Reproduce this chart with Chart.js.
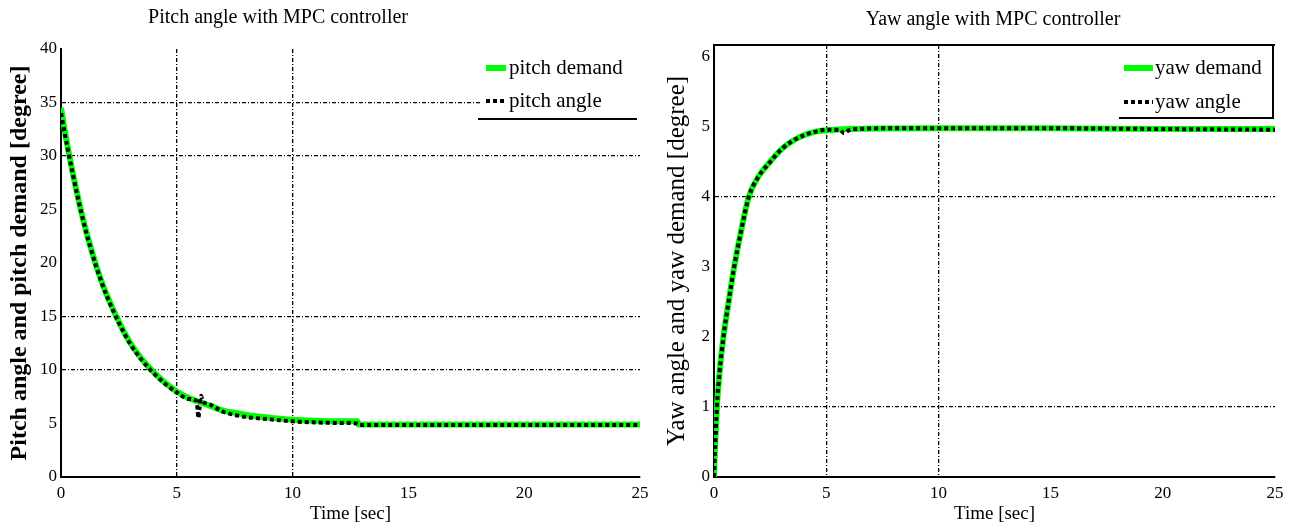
<!DOCTYPE html>
<html>
<head>
<meta charset="utf-8">
<script src="https://cdn.jsdelivr.net/npm/chart.js@4.4.1/dist/chart.umd.min.js"></script>
<style>
    html, body { margin:0; padding:0; background:#fff; }
    #wrap { position:relative; width:1292px; height:531px; overflow:hidden; }
    #pitch_box { position:absolute; left:0; top:0; width:660px; height:531px; }
    #yaw_box { position:absolute; left:660px; top:0; width:632px; height:531px; }
</style>
</head>
<body>
<div id="wrap">
    <div id="pitch_box"><canvas id="pitch_chart" width="660" height="531"></canvas></div>
    <div id="yaw_box"><canvas id="yaw_chart" width="632" height="531"></canvas></div>
</div>
<script>
// ---- data ----
let timeTicks = [0, 5, 10, 15, 20, 25];
let pitchTicks = [0, 5, 10, 15, 20, 25, 30, 35, 40];
let yawTicks = [0, 1, 2, 3, 4, 5, 6];
let pitchGridX = [5, 10];
let pitchGridY = [35, 30, 15, 10];
let yawGridX = [5, 10];
let yawGridY = [4, 1];

let pitchTime   = [0, 0.25, 0.5, 0.75, 1, 1.25, 1.5, 1.75, 2, 2.5, 3, 3.5, 4, 4.5, 5, 5.5, 6, 6.5, 7, 7.5, 8, 9, 10, 11, 12, 12.8, 12.85, 15, 20, 25];
let pitchDemand = [34.5, 31.3, 28.5, 26.0, 23.7, 21.7, 19.9, 18.3, 16.9, 14.5, 12.5, 11.0, 9.8, 8.8, 8.0, 7.4, 7.0, 6.6, 6.2, 6.0, 5.8, 5.55, 5.35, 5.25, 5.2, 5.2, 4.9, 4.9, 4.9, 4.9];

let pitchAngleTime = [0, 0.25, 0.5, 0.75, 1, 1.25, 1.5, 1.75, 2, 2.5, 3, 3.5, 4, 4.5, 5, 5.5, 5.85, 5.9, 5.93, 5.98, 6.05, 6.12, 6.4, 7, 7.5, 8, 9, 10, 11, 12, 12.8, 12.9, 15, 20, 25];
let pitchAngle     = [34.0, 31.1, 28.4, 25.9, 23.6, 21.6, 19.8, 18.2, 16.8, 14.4, 12.4, 10.9, 9.7, 8.7, 7.9, 7.3, 7.1, 6.2, 5.5, 6.4, 7.6, 7.1, 6.8, 6.1, 5.8, 5.6, 5.4, 5.2, 5.1, 5.05, 5.0, 4.85, 4.85, 4.85, 4.85];

let yawTime   = [0, 0.05, 0.13, 0.25, 0.42, 0.65, 0.9, 1.2, 1.55, 2, 2.5, 3, 3.5, 4, 4.5, 5, 6, 10, 15, 20, 25];
let yawDemand = [0, 0.45, 1.0, 1.5, 2.0, 2.5, 3.0, 3.5, 4.0, 4.3, 4.5, 4.68, 4.8, 4.88, 4.93, 4.95, 4.97, 4.98, 4.98, 4.97, 4.97];

let yawAngleTime = [0, 0.05, 0.13, 0.25, 0.42, 0.65, 0.9, 1.2, 1.55, 2, 2.5, 3, 3.5, 4, 4.5, 5, 5.6, 5.8, 6, 6.3, 8, 10, 15, 20, 25];
let yawAngle     = [0, 0.4, 1.0, 1.5, 2.0, 2.5, 3.0, 3.5, 4.0, 4.3, 4.5, 4.68, 4.8, 4.88, 4.93, 4.96, 4.96, 4.91, 4.95, 4.97, 4.98, 4.98, 4.98, 4.97, 4.96];

const FONT = '"Liberation Serif", "Times New Roman", serif';

function pts(xs, ys){
    let out = [];
    for(let i=0; i<xs.length; i++) out.push({x:xs[i], y:ys[i]});
    return out;
}

function gridColor(list){
    return function(c){
        return list.indexOf(c.tick.value) >= 0 ? '#000' : 'rgba(0,0,0,0)';
    };
}

function setTicks(list){
    return function(scale){
        scale.ticks = list.map(v => ({value:v}));
    };
}

// title + legend + odd frame lines from the original figure
const decor = {
    id:'decor',
    afterDraw(chart, args, o){
        const ctx = chart.ctx;
        const a = chart.chartArea;
        ctx.save();
        ctx.fillStyle = '#000';
        ctx.textBaseline = 'middle';
        ctx.font = '20px ' + FONT;
        ctx.textAlign = 'center';
        ctx.fillText(o.title, o.titleX, o.titleY);

        // legend background
        ctx.fillStyle = '#fff';
        ctx.fillRect(o.legLeft, o.legTop, a.right - o.legLeft, o.legBottom - o.legTop);

        // legend items from dataset styles
        ctx.textAlign = 'left';
        ctx.font = '21px ' + FONT;
        chart.data.datasets.forEach(function(ds, i){
            const y = o.rows[i];
            ctx.strokeStyle = ds.borderColor;
            ctx.lineWidth = ds.borderWidth;
            ctx.setLineDash(ds.borderDash || []);
            ctx.beginPath();
            ctx.moveTo(o.symX[0], y);
            ctx.lineTo(o.symX[1], y);
            ctx.stroke();
            ctx.setLineDash([]);
            ctx.fillStyle = '#000';
            ctx.fillText(ds.label, o.textX, y);
        });

        ctx.strokeStyle = '#000';
        ctx.lineWidth = 2;
        o.lines.forEach(function(l){
            ctx.beginPath();
            ctx.moveTo(l[0], l[1]);
            ctx.lineTo(l[2], l[3]);
            ctx.stroke();
        });
        ctx.restore();
    }
};

function makeChart(el, cfg){
    return new Chart(document.getElementById(el), {
        type:'line',
        plugins:[decor],
        data:{
            datasets:[{
                label:cfg.labels[0],
                data:cfg.demand,
                borderColor:'#00ff00',
                borderWidth:6,
                pointRadius:0,
                cubicInterpolationMode:'monotone',
                order:1
            },{
                label:cfg.labels[1],
                data:cfg.angle,
                borderColor:'#000',
                borderWidth:4,
                borderDash:[4,3],
                pointRadius:0,
                cubicInterpolationMode:'monotone',
                order:0
            }]
        },
        options:{
            responsive:false,
            animation:false,
            layout:{ padding:cfg.padding },
            plugins:{
                legend:{ display:false },
                tooltip:{ enabled:false },
                decor:cfg.decor
            },
            scales:{
                x:{
                    type:'linear',
                    min:0, max:25,
                    afterBuildTicks:setTicks(timeTicks),
                    afterFit:function(s){ s.height = 54; },
                    grid:{ color:gridColor(cfg.gridX), lineWidth:1.3, drawTicks:false },
                    border:{ color:'#000', width:2, dash:[4,2,1,2] },
                    ticks:{ color:'#000', padding:6, font:{ family:FONT, size:17 } },
                    title:{ display:true, text:'Time [sec]', color:'#000', padding:{top:0, bottom:6}, font:{ family:FONT, size:19 } }
                },
                y:{
                    type:'linear',
                    min:0, max:cfg.ymax,
                    afterBuildTicks:setTicks(cfg.yTicks),
                    afterFit:function(s){ s.width = cfg.yWidth; },
                    grid:{ color:gridColor(cfg.gridY), lineWidth:1.3, drawTicks:false },
                    border:{ color:'#000', width:2, dash:[4,2,1,2] },
                    ticks:{ color:'#000', padding:4, font:{ family:FONT, size:17 } },
                    title:{ display:true, text:cfg.yTitle, color:'#000', padding:{top:cfg.yTitlePad, bottom:0}, font:{ family:FONT, size:cfg.yTitleSize, weight:cfg.yBold ? 'bold' : 'normal' } }
                }
            }
        }
    });
}

makeChart('pitch_chart', {
    labels:['pitch demand', 'pitch angle'],
    demand:pts(pitchTime, pitchDemand),
    angle:pts(pitchAngleTime, pitchAngle),
    yTicks:pitchTicks,
    ymax:40,
    gridX:pitchGridX,
    gridY:pitchGridY,
    yWidth:61,
    yTitle:'Pitch angle and pitch demand [degree]',
    yTitleSize:24,
    yTitlePad:5,
    yBold:true,
    padding:{ left:0, right:20, top:49, bottom:0 },
    decor:{
        title:'Pitch angle with MPC controller', titleX:278, titleY:18,
        legLeft:482, legTop:55, legBottom:116,
        rows:[68, 101], symX:[486, 506], textX:509,
        lines:[[478, 119, 637, 119]]
    }
});

makeChart('yaw_chart', {
    labels:['yaw demand', 'yaw angle'],
    demand:pts(yawTime, yawDemand),
    angle:pts(yawAngleTime, yawAngle),
    yTicks:yawTicks,
    ymax:6.17,
    gridX:yawGridX,
    gridY:yawGridY,
    yWidth:54,
    yTitle:'Yaw angle and yaw demand [degree]',
    yTitleSize:25,
    yTitlePad:2,
    yBold:false,
    padding:{ left:0, right:17, top:45, bottom:0 },
    decor:{
        title:'Yaw angle with MPC controller', titleX:333, titleY:20,
        legLeft:459, legTop:46, legBottom:118,
        rows:[68, 102], symX:[464, 493], textX:495,
        lines:[[54, 45, 615, 45], [613, 45, 613, 118], [459, 118, 614, 118]]
    }
});
</script>
</body>
</html>
